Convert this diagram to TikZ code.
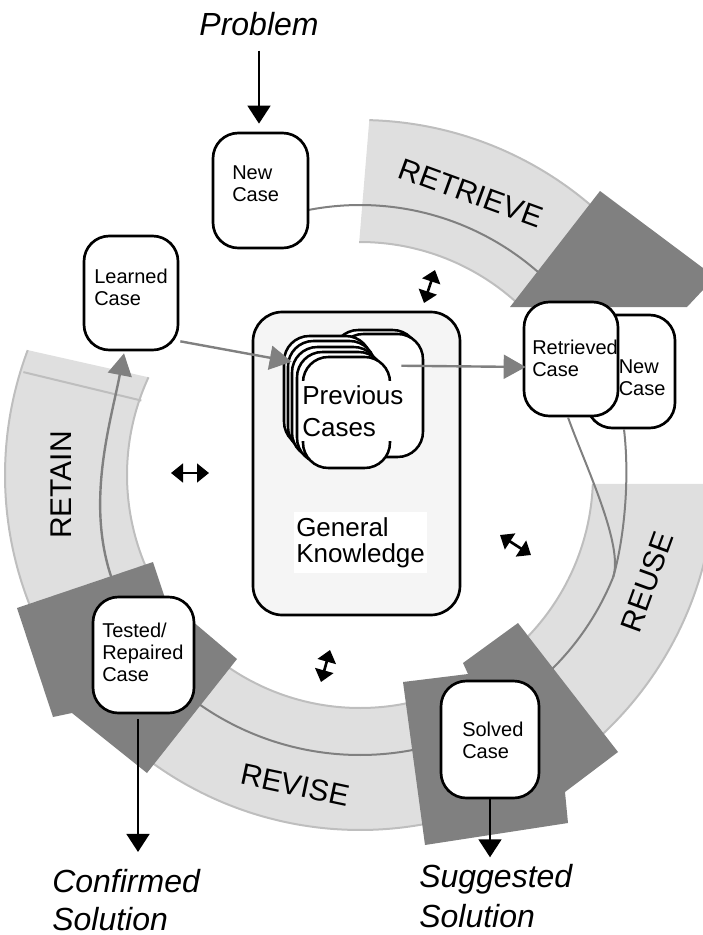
\documentclass[tikz,border=0pt]{standalone}
\usepackage{fontspec}
\setmainfont{Liberation Sans}
\usetikzlibrary{arrows.meta,calc}
\definecolor{bandfill}{HTML}{DFDFDF}
\definecolor{bandedge}{HTML}{BEBEBE}
\definecolor{midgray}{HTML}{808080}
\definecolor{gkfill}{HTML}{F5F5F5}
\begin{document}
\begin{tikzpicture}[x=0.75pt,y=-0.75pt,
  casebox/.style={draw=black,line width=2pt,fill=white,rounded corners=19pt,inner sep=0pt},
  cardbox/.style={draw=black,line width=1.9pt,fill=white,rounded corners=19pt,inner sep=0pt},
  frontcard/.style={cardbox,minimum width=65.25pt,minimum height=83.25pt},
  casetext/.style={font=\fontsize{15}{16.5}\selectfont,align=left,inner sep=0pt,anchor=west},
  bigital/.style={font=\fontsize{24}{30}\selectfont\itshape,inner sep=0pt},
  bandlabel/.style={font=\fontsize{22.5}{27}\selectfont,inner sep=0pt},
  bandarea/.style={fill=bandfill},
  bandline/.style={draw=bandedge,line width=1.5pt},
  midline/.style={draw=midgray,line width=1.5pt},
  headshape/.style={fill=midgray},
  blackarrow/.style={draw=black,line width=2pt,-{Triangle[length=13.5pt,width=17pt]}},
  grayarrow/.style={draw=midgray,line width=1.8pt,-{Triangle[length=16.5pt,width=18pt]}},
  dblarrow/.style={draw=black,line width=2pt,{Triangle[length=9pt,width=14pt]}-{Triangle[length=9pt,width=14pt]}}
]
\useasboundingbox (0,0) rectangle (703,935);
\clip (0,0) rectangle (703,935);

% ---- bands ----
% RETRIEVE
\fill[bandarea] plot[domain=88.5:47,samples=60] ({360+355*cos(\x)},{475-355*sin(\x)}) -- plot[domain=47:90.2,samples=60] ({360+233*cos(\x)},{475-233*sin(\x)}) -- cycle;
\draw[bandline] plot[domain=88.5:47,samples=60] ({360+355*cos(\x)},{475-355*sin(\x)});
\draw[bandline] plot[domain=90.2:47,samples=60] ({360+233*cos(\x)},{475-233*sin(\x)});
% REUSE
\fill[bandarea] plot[domain=-1.45:-50,samples=60] ({360+355*cos(\x)},{475-355*sin(\x)}) -- plot[domain=-50:-2.2,samples=60] ({360+233*cos(\x)},{475-233*sin(\x)}) -- cycle;
\draw[bandline] plot[domain=-1.45:-50,samples=60] ({360+355*cos(\x)},{475-355*sin(\x)});
\draw[bandline] plot[domain=-2.2:-50,samples=60] ({360+233*cos(\x)},{475-233*sin(\x)});
% REVISE
\fill[bandarea] plot[domain=-76:-127,samples=60] ({360+355*cos(\x)},{475-355*sin(\x)}) -- plot[domain=-127:-76,samples=60] ({360+233*cos(\x)},{475-233*sin(\x)}) -- cycle;
\draw[bandline] plot[domain=-76:-127,samples=60] ({360+355*cos(\x)},{475-355*sin(\x)});
\draw[bandline] plot[domain=-76:-127,samples=60] ({360+233*cos(\x)},{475-233*sin(\x)});
% RETAIN
\fill[bandarea] plot[domain=204:159.4,samples=60] ({360+355*cos(\x)},{475-355*sin(\x)}) -- plot[domain=155.2:204,samples=60] ({360+233*cos(\x)},{475-233*sin(\x)}) -- cycle;
\draw[bandline] plot[domain=204:159.4,samples=60] ({360+355*cos(\x)},{475-355*sin(\x)});
\draw[bandline] plot[domain=204:155.2,samples=60] ({360+233*cos(\x)},{475-233*sin(\x)});
\draw[bandline] ({360+352*cos(163)},{475-352*sin(163)}) -- ({360+231*cos(161.2)},{475-231*sin(161.2)});

% ---- cycle lines ----
\draw[midline] plot[domain=101:47,samples=60] ({360+270*cos(\x)},{475-270*sin(\x)});
\draw[midline] plot[domain=-76:-127,samples=60] ({360+280*cos(\x)},{475-280*sin(\x)});
\coordinate (merge) at (613.1,577.3);
\draw[midline] plot[domain=-22:-50,samples=40] ({360+273*cos(\x)},{475-273*sin(\x)});

% learned case (needed for retain arrow)
\node[casebox,minimum width=70.5pt,minimum height=85.5pt] (learned) at (131,293) {};
\node[casetext] (learnedT) at (94,287) {Learned\\Case};
\coordinate (retainstart) at (113,582);
\draw[grayarrow] (retainstart) .. controls (85,505) and (110,425) .. ($(learned.south)+(-7,2)$);

% ---- heads ----
\fill[headshape] (600,191) -- (703,268) -- (703,290) -- (687,307) -- (510,307) -- cycle;
\fill[headshape] (518,623) -- (618,752) -- (565,792) -- (568,823) -- (425,845) -- (403,682) -- (468,674) -- (463,663) -- cycle;
\fill[headshape] (17,608) -- (153,562) -- (165,598) -- (237,659) -- (147,773) -- (72,713) -- (53,717) -- cycle;

% ---- band labels ----
\node[bandlabel,rotate=-20] (lretrieve) at (471,193) {RETRIEVE};
\node[bandlabel,rotate=70] (lreuse) at (647,582) {REUSE};
\node[bandlabel,rotate=-12] (lrevise) at (295,785) {REVISE};
\node[bandlabel,rotate=90] (lretain) at (61,485) {RETAIN};

% ---- general knowledge ----
\node[draw=black,line width=2pt,fill=gkfill,rounded corners=22pt,minimum width=155.25pt,minimum height=227.25pt,inner sep=0pt] (gk) at (356.5,463.5) {};
\node[cardbox,minimum width=63.75pt,minimum height=91.5pt] (cardBA) at (375.5,391) {};
\node[cardbox,minimum width=63.75pt,minimum height=92.25pt] (cardBB) at (380.5,395.5) {};
\node[frontcard] (cardF4) at (327.5,391.5) {};
\node[frontcard] (cardF3) at (331.5,396.5) {};
\node[frontcard] (cardF2) at (335.5,402.5) {};
\node[frontcard] (cardF1) at (340.5,407.5) {};
\node[frontcard] (cardF0) at (346.5,412.5) {};
\node[font=\fontsize{19.5}{24}\selectfont,align=left,fill=white,inner xsep=1pt,inner ysep=3pt,anchor=west] (prevT) at (300.7,411) {Previous\\Cases};
\node[font=\fontsize{19.5}{20}\selectfont,align=left,fill=white,inner xsep=1.5pt,inner ysep=3.75pt,anchor=west] (gkT) at (294,542.7) {General\\Knowledge};

% ---- case boxes ----
\node[casebox,minimum width=71.25pt,minimum height=86.25pt] (newcase) at (260.5,190.5) {};
\node[casetext] (newcaseT) at (232,183.5) {New\\Case};
\node[casebox,minimum width=66pt,minimum height=84.75pt] (newcase2) at (631,371.5) {};
\node[casetext] (newcase2T) at (618.5,378) {New\\Case};
\node[casebox,minimum width=70.5pt,minimum height=85.5pt] (retrieved) at (571,359) {};
\node[casetext] (retrievedT) at (532,358.5) {Retrieved\\Case};
\node[casebox,minimum width=75.75pt,minimum height=87pt] (tested) at (143.5,655) {};
\node[casetext] (testedT) at (102,652) {Tested/\\Repaired\\Case};
\node[casebox,minimum width=73.5pt,minimum height=87.75pt] (solved) at (490,739.5) {};
\node[casetext] (solvedT) at (462,740) {Solved\\Case};

% ---- reuse lines ----
\draw[midline] ($(retrieved.south)+(-3,0)$) .. controls (585,465) and (624,545) .. (merge);
\draw[midline] ($(newcase2.south)+(-7,0)$) .. controls (630,480) and (624,540) .. (merge);

% ---- gray arrows ----
\draw[grayarrow] ($(learned.south east)+(1,-10)$) -- ($(cardF4.north west)+(9,27)$);
\draw[grayarrow] ($(cardF0.north east)+(10,10)$) -- ($(retrieved.west)+(3,8)$);

% ---- inputs / outputs ----
\node[bigital,anchor=base] (problem) at (259,35) {Problem};
\draw[blackarrow,shorten <=11.25pt,shorten >=6pt] (problem.south) -- (problem.south |- newcase.north);
\node[bigital,align=left,anchor=west,font=\fontsize{24}{28.5}\selectfont\itshape] (confirmed) at (52,900) {Confirmed\\Solution};
\coordinate (tstart) at ($(tested.south)+(-5.5,5)$);
\draw[blackarrow,shorten >=12.75pt] (tstart) -- (tstart |- confirmed.north);
\node[bigital,align=left,anchor=west] (suggested) at (419,896) {Suggested\\Solution};
\draw[blackarrow,shorten >=5pt] (solved.south) -- (solved.south |- suggested.north);

% ---- knowledge interaction arrows ----
\coordinate (dA1) at (424,303); \coordinate (dA2) at (435,270);
\draw[dblarrow] (dA1) -- (dA2);
\coordinate (dB1) at (171,473); \coordinate (dB2) at (209,473);
\draw[dblarrow] (dB1) -- (dB2);
\coordinate (dC1) at (500,535); \coordinate (dC2) at (531,555);
\draw[dblarrow] (dC1) -- (dC2);
\coordinate (dD1) at (321,682); \coordinate (dD2) at (330,650);
\draw[dblarrow] (dD1) -- (dD2);
\end{tikzpicture}
\end{document}
